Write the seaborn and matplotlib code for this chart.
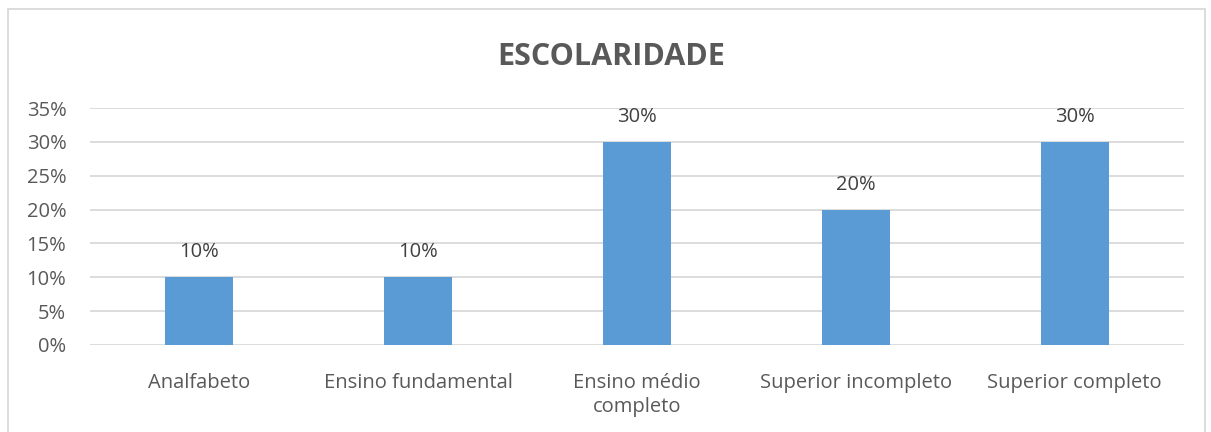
import matplotlib
matplotlib.use("Agg")
import matplotlib.pyplot as plt
import seaborn as sns
import pandas as pd
from matplotlib.patches import Rectangle
from matplotlib.ticker import FuncFormatter

categories = ["Analfabeto", "Ensino fundamental", "Ensino médio\ncompleto",
              "Superior incompleto", "Superior completo"]
values = [10, 10, 30, 20, 30]
yticks = [0, 5, 10, 15, 20, 25, 30, 35]
title = "ESCOLARIDADE"

sns.set_theme(style="white")
plt.rcParams['font.family'] = ['Open Sans', 'DejaVu Sans']

df = pd.DataFrame({"cat": categories, "val": values})

fig = plt.figure(figsize=(12.11, 4.32), dpi=100)
ax = fig.add_axes([0.0743, 0.2014, 0.9034, 0.5486])

sns.barplot(data=df, x="cat", y="val", color="#5B9BD5", width=0.31,
            saturation=1, ax=ax, zorder=3, linewidth=0)

ax.set_ylim(0, 35)
ax.set_yticks(yticks)
ax.yaxis.set_major_formatter(FuncFormatter(lambda v, p: f"{int(v)}%"))
ax.grid(axis="y", color="#D9D9D9", linewidth=1.3, zorder=0)
ax.set_axisbelow(True)
for s in ax.spines.values():
    s.set_visible(False)
ax.set_xlabel("")
ax.set_ylabel("")
ax.tick_params(axis="both", length=0, labelsize=14.5, colors="#595959")
ax.tick_params(axis="x", pad=20)
ax.tick_params(axis="y", pad=17)
for lbl in ax.get_xticklabels():
    lbl.set_linespacing(1.3)
ax.set_xlim(-0.5, len(categories) - 0.5)

for i, v in enumerate(values):
    ax.text(i, v + 3.7, f"{v}%", ha="center", va="center", fontsize=14.5,
            color="#404040")

fig.text(0.5045, 0.868, title, ha="center", va="center", fontsize=22,
         fontweight="bold", color="#595959")

fig.patches.append(Rectangle((8 / 1211, -0.05), (1205 - 8) / 1211, 1.05 - 9 / 432,
                             transform=fig.transFigure, fill=False,
                             edgecolor="#D9D9D9", linewidth=1.3))

fig.savefig("out.png", dpi=100)
